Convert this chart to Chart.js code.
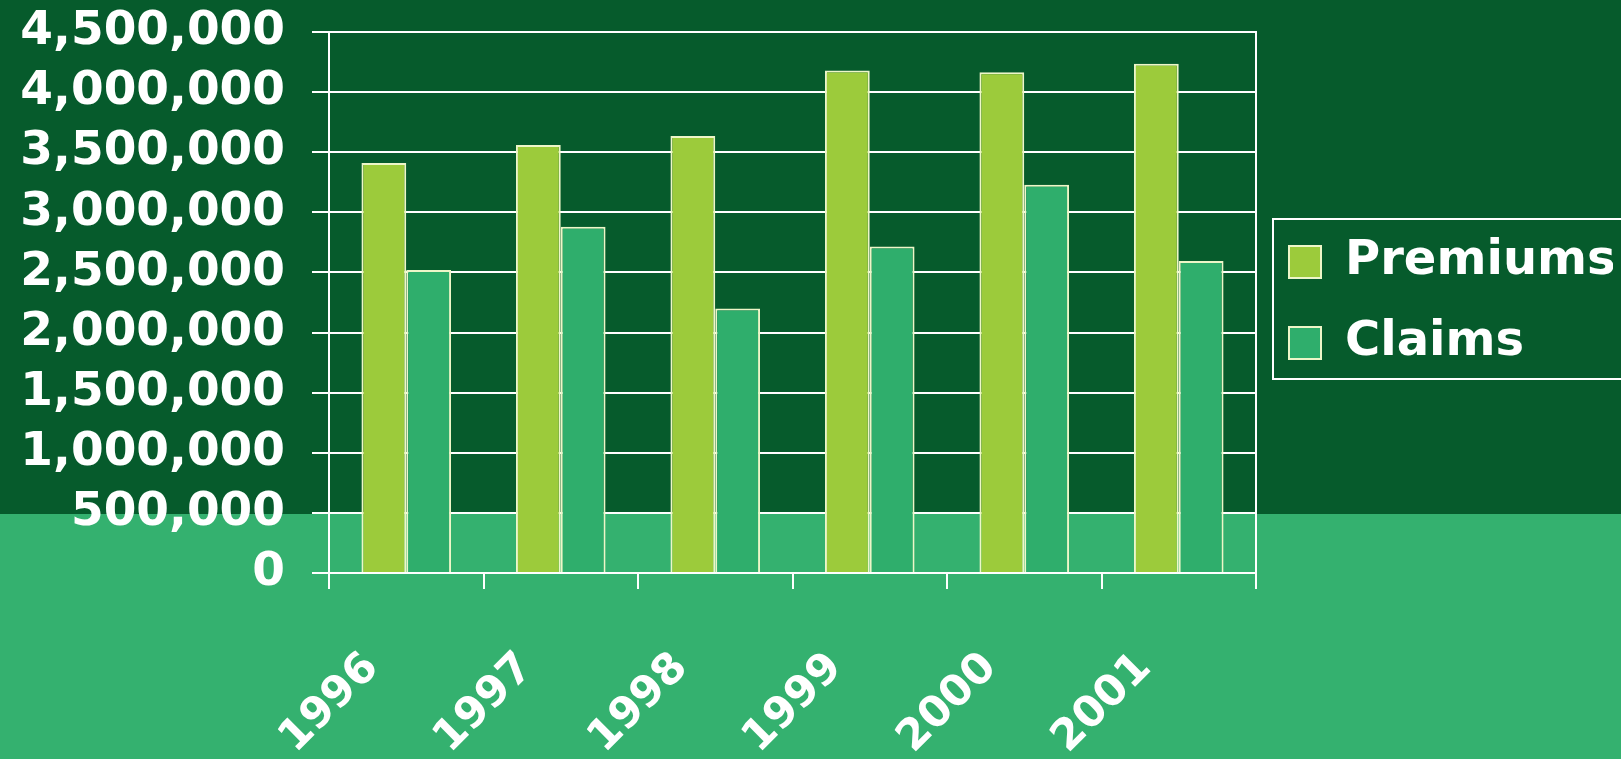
<!DOCTYPE html>
<html>
<head>
<meta charset="utf-8">
<title>Premiums and Claims</title>
<script src="https://cdn.jsdelivr.net/npm/chart.js@4.4.1/dist/chart.umd.min.js"></script>
<style>
  html, body { margin: 0; padding: 0; background: #065b2c; overflow: hidden; }
  canvas { display: block; }
</style>
</head>
<body>
<canvas id="chart" width="1621" height="759"></canvas>
<script>
const years = ['1996', '1997', '1998', '1999', '2000', '2001'];
const premiums = [3410000, 3560000, 3635000, 4180000, 4165000, 4235000];
const claims = [2520000, 2880000, 2200000, 2715000, 3230000, 2595000];
const yTicks = [0, 500000, 1000000, 1500000, 2000000, 2500000, 3000000, 3500000, 4000000, 4500000];

const DARK_BG = '#065b2c';
const LIGHT_BG = '#34b16f';
const PREMIUM_COLOR = '#9ccb3b';
const CLAIMS_COLOR = '#2fae6c';
const EDGE = '#eef6c8';
const WHITE = '#ffffff';
const SPLIT_Y = 514; // where the dark band meets the light band

Chart.defaults.font.family = 'DejaVu Sans';
Chart.defaults.font.weight = 'bold';

// two-tone backdrop behind everything
const backdrop = {
  id: 'backdrop',
  beforeDraw(chart) {
    const { ctx, width, height } = chart;
    ctx.save();
    ctx.fillStyle = DARK_BG;
    ctx.fillRect(0, 0, width, SPLIT_Y);
    ctx.fillStyle = LIGHT_BG;
    ctx.fillRect(0, SPLIT_Y, width, height - SPLIT_Y);
    ctx.restore();
  }
};

// white frame round the legend, running off the right edge
const legendFrame = {
  id: 'legendFrame',
  afterDraw(chart) {
    const boxes = chart.legend && chart.legend.legendHitBoxes;
    if (!boxes || boxes.length < 2) return;
    const ctx = chart.ctx;
    const left = boxes[0].left - 16;
    const top = boxes[0].top - 19;
    const bottom = boxes[1].top + 60;
    ctx.save();
    ctx.strokeStyle = WHITE;
    ctx.lineWidth = 2;
    ctx.strokeRect(left, top, chart.width - left + 20, bottom - top);
    ctx.restore();
  }
};

new Chart(document.getElementById('chart'), {
  type: 'bar',
  data: {
    labels: years,
    datasets: [
      {
        label: 'Premiums',
        data: premiums,
        backgroundColor: PREMIUM_COLOR,
        borderColor: EDGE,
        borderWidth: 2,
        categoryPercentage: 0.58,
        barPercentage: 1.0
      },
      {
        label: 'Claims',
        data: claims,
        backgroundColor: CLAIMS_COLOR,
        borderColor: EDGE,
        borderWidth: 2,
        categoryPercentage: 0.58,
        barPercentage: 1.0
      }
    ]
  },
  options: {
    responsive: false,
    animation: false,
    layout: { padding: { top: 32, right: 8, left: 0, bottom: 0 } },
    plugins: {
      legend: {
        position: 'right',
        fullSize: false,
        maxWidth: 357,
        labels: {
          color: WHITE,
          font: { size: 48, weight: 'bold' },
          boxWidth: 32,
          boxHeight: 32,
          padding: 33
        }
      },
      tooltip: { enabled: false }
    },
    scales: {
      x: {
        grid: {
          offset: true,
          drawOnChartArea: false,
          color: WHITE,
          tickColor: WHITE,
          lineWidth: 2,
          tickLength: 16
        },
        border: { color: WHITE, width: 2 },
        ticks: {
          color: WHITE,
          font: { size: 43, weight: 'bold' },
          minRotation: 45,
          maxRotation: 45,
          autoSkip: false,
          padding: 54,
          labelOffset: -34
        },
        afterFit(scale) {
          scale.height = 186;
          scale.paddingLeft = 0;
          scale.paddingRight = 0;
        }
      },
      y: {
        min: 0,
        max: 4500000,
        afterBuildTicks(scale) {
          scale.ticks = yTicks.map(v => ({ value: v }));
        },
        grid: { color: WHITE, lineWidth: 2, tickLength: 17 },
        border: { color: WHITE, width: 2 },
        ticks: {
          color: WHITE,
          font: { size: 47, weight: 'bold' },
          padding: 27,
          autoSkip: false,
          callback: v => v.toLocaleString('en-US')
        },
        afterFit(scale) {
          scale.width = 329;
          scale.paddingTop = 0;
          scale.paddingBottom = 0;
        }
      },
      y2: {
        position: 'right',
        grid: { display: false },
        ticks: { display: false },
        border: { color: WHITE, width: 2 },
        afterFit(scale) { scale.width = 0; }
      }
    }
  },
  plugins: [backdrop, legendFrame]
});
</script>
</body>
</html>
